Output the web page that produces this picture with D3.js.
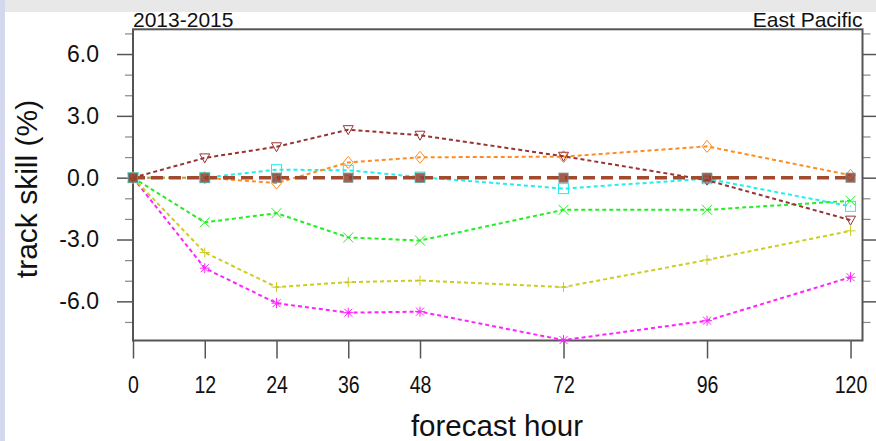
<!DOCTYPE html>
<html><head><meta charset="utf-8">
<script src="https://cdn.jsdelivr.net/npm/d3@7"></script>
<style>body{margin:0;padding:0;background:#e8e8e8;overflow:hidden}</style>
</head><body>
<script>
const hours = [0, 12, 24, 36, 48, 72, 96, 120];
const xTickLabels = ["0","12","24","36","48","72","96","120"];
const yMajorTicks = [-6, -3, 0, 3, 6];
const yTickLabels = ["-6.0","-3.0","0.0","3.0","6.0"];
const yMinorTicks = [-7, -5, -4, -2, -1, 1, 2, 4, 5, 7];
const titleLeft = "2013-2015";
const titleRight = "East Pacific";

const magentaVals = [0, -4.39, -6.09, -6.55, -6.50, -7.88, -6.94, -4.83];
const yellowVals  = [0, -3.63, -5.31, -5.07, -4.99, -5.31, -3.99, -2.58];
const greenVals   = [0, -2.17, -1.72, -2.90, -3.05, -1.56, -1.56, -1.12];
const cyanVals    = [0, 0.0, 0.39, 0.36, 0.03, -0.53, -0.05, -1.39];
const orangeVals  = [0, 0.0, -0.26, 0.74, 0.99, 1.02, 1.52, 0.12];
const brownVals   = [0, 0.96, 1.50, 2.33, 2.06, 1.04, -0.12, -2.06];
const baseVals    = [0, 0, 0, 0, 0, 0, 0, 0];

const W = 876, H = 441;
const svg = d3.select("body").append("svg").attr("width", W).attr("height", H);
svg.append("rect").attr("x",0).attr("y",0).attr("width",W).attr("height",H).attr("fill","#e8e8e8");
svg.append("rect").attr("x",0).attr("y",0).attr("width",5).attr("height",H).attr("fill","#d3d8ee");
svg.append("rect").attr("x",5).attr("y",12).attr("width",W-5).attr("height",H-12).attr("fill","#ffffff");

const L = 133, R = 862.5, T = 29.3, B = 340.5;
const x = d3.scaleLinear().domain([0, 122]).range([L, R]);
const y = d3.scaleLinear().domain([-7.9, 7.2]).range([B, T]);

const font = "'Liberation Sans', Arial, sans-serif";
const axisColor = "#555";

// ticks left
const gl = svg.append("g").attr("transform", `translate(${L},0)`)
  .call(d3.axisLeft(y).tickValues(yMajorTicks).tickFormat((d,i)=>yTickLabels[i]).tickSize(16).tickPadding(18));
gl.select(".domain").remove();
gl.selectAll(".tick line").attr("stroke", axisColor).attr("stroke-width", 1.5);
gl.selectAll(".tick text").attr("font-family", font).attr("font-size", 23).attr("fill","#111");
const glm = svg.append("g").attr("transform", `translate(${L},0)`)
  .call(d3.axisLeft(y).tickValues(yMinorTicks).tickFormat("").tickSize(8));
glm.select(".domain").remove();
glm.selectAll(".tick line").attr("stroke", "#888").attr("stroke-width", 1.2);

// ticks right
const gr = svg.append("g").attr("transform", `translate(${R},0)`)
  .call(d3.axisRight(y).tickValues(yMajorTicks).tickFormat("").tickSize(16));
gr.select(".domain").remove();
gr.selectAll(".tick line").attr("stroke", axisColor).attr("stroke-width", 1.5);
const grm = svg.append("g").attr("transform", `translate(${R},0)`)
  .call(d3.axisRight(y).tickValues(yMinorTicks).tickFormat("").tickSize(8));
grm.select(".domain").remove();
grm.selectAll(".tick line").attr("stroke", "#888").attr("stroke-width", 1.2);

// x ticks
const gb = svg.append("g").attr("transform", `translate(0,${B})`)
  .call(d3.axisBottom(x).tickValues(hours).tickFormat((d,i)=>xTickLabels[i]).tickSize(18).tickPadding(0));
gb.select(".domain").remove();
gb.selectAll(".tick line").attr("stroke", axisColor).attr("stroke-width", 1.5);
gb.selectAll(".tick text").attr("font-family", font).attr("font-size", 23).attr("fill","#111")
  .attr("y", 52.5).attr("dy", null).attr("transform","scale(0.85,1)");

// frame
svg.append("rect").attr("x",L).attr("y",T).attr("width",R-L).attr("height",B-T)
  .attr("fill","none").attr("stroke",axisColor).attr("stroke-width",2);

// labels
svg.append("text").attr("x", 497).attr("y", 436).attr("text-anchor","middle")
  .attr("font-family", font).attr("font-size", 29.5).attr("fill","#111").text("forecast hour");
svg.append("text").attr("transform", `translate(37,189) rotate(-90)`).attr("text-anchor","middle")
  .attr("font-family", font).attr("font-size", 30).attr("fill","#111").text("track skill (%)");
svg.append("text").attr("x", L).attr("y", 27).attr("font-family", font).attr("font-size", 21).attr("fill","#111").text(titleLeft);
svg.append("text").attr("x", R).attr("y", 27).attr("text-anchor","end").attr("font-family", font).attr("font-size", 21).attr("fill","#111").text(titleRight);

// series
const series = [
  {vals: magentaVals, color: "#ff22ff", marker: "asterisk"},
  {vals: yellowVals, color: "#cccc22", marker: "plus"},
  {vals: greenVals, color: "#22ee22", marker: "cross"},
  {vals: cyanVals, color: "#22eeee", marker: "square"},
  {vals: orangeVals, color: "#ff8c22", marker: "diamond"},
  {vals: brownVals, color: "#993333", marker: "tri"},
];
const line = d3.line().x((d,i)=>x(hours[i])).y(d=>y(d));
const plot = svg.append("g");

function drawMarker(g, type, cx, cy, color) {
  const s = 5;
  if (type === "square") {
    g.append("rect").attr("x",cx-s).attr("y",cy-s).attr("width",2*s).attr("height",2*s).attr("fill","none").attr("stroke",color).attr("stroke-width",1);
  } else if (type === "diamond") {
    g.append("path").attr("d",`M${cx},${cy-s-1}L${cx+s},${cy}L${cx},${cy+s+1}L${cx-s},${cy}Z`).attr("fill","none").attr("stroke",color).attr("stroke-width",1);
  } else if (type === "tri") {
    g.append("path").attr("d",`M${cx-s},${cy-s+1}L${cx+s},${cy-s+1}L${cx},${cy+s}Z`).attr("fill","none").attr("stroke",color).attr("stroke-width",1);
  } else if (type === "plus") {
    g.append("path").attr("d",`M${cx-s},${cy}L${cx+s},${cy}M${cx},${cy-s}L${cx},${cy+s}`).attr("stroke",color).attr("stroke-width",1);
  } else if (type === "cross") {
    g.append("path").attr("d",`M${cx-s},${cy-s}L${cx+s},${cy+s}M${cx-s},${cy+s}L${cx+s},${cy-s}`).attr("stroke",color).attr("stroke-width",1);
  } else if (type === "asterisk") {
    g.append("path").attr("d",`M${cx-s},${cy}L${cx+s},${cy}M${cx},${cy-s}L${cx},${cy+s}M${cx-4},${cy-4}L${cx+4},${cy+4}M${cx-4},${cy+4}L${cx+4},${cy-4}`).attr("stroke",color).attr("stroke-width",1);
  }
}

series.forEach(s => {
  plot.append("path").datum(s.vals).attr("d", line).attr("fill","none")
    .attr("stroke", s.color).attr("stroke-width", 2).attr("stroke-dasharray","4,3");
  s.vals.forEach((v,i) => drawMarker(plot, s.marker, x(hours[i]), y(v), s.color));
});

// baseline
plot.append("path").datum(baseVals).attr("d", line).attr("fill","none")
  .attr("stroke", "#a24a2e").attr("stroke-width", 3.5).attr("stroke-dasharray","12,6");
baseVals.forEach((v,i) => {
  plot.append("rect").attr("x", x(hours[i])-4.5).attr("y", y(v)-4.5).attr("width",9).attr("height",9)
    .attr("fill","#93402e").attr("fill-opacity",0.85).attr("stroke","#6f8a84").attr("stroke-width",1);
});
</script>
</body></html>
